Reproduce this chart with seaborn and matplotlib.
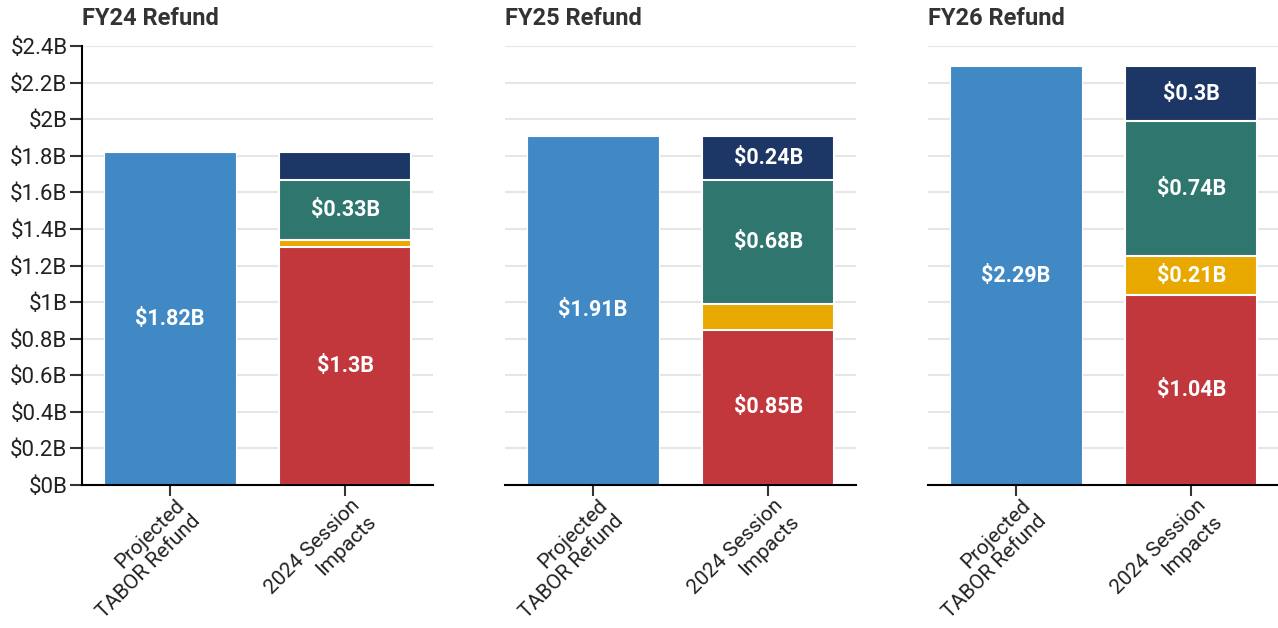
import matplotlib
matplotlib.use('Agg')
import matplotlib.pyplot as plt
import matplotlib.transforms as mtrans
import seaborn as sns
import pandas as pd

# chart data (billions of dollars)
years = ["FY24 Refund", "FY25 Refund", "FY26 Refund"]
categories = ["Projected\nTABOR Refund", "2024 Session\nImpacts"]
projected = [1.82, 1.91, 2.29]
red_part = [1.30, 0.85, 1.04]
yellow_part = [0.04, 0.14, 0.21]
green_part = [0.33, 0.68, 0.74]
navy_part = [0.15, 0.24, 0.30]
y_ticks = [0, 0.2, 0.4, 0.6, 0.8, 1.0, 1.2, 1.4, 1.6, 1.8, 2.0, 2.2, 2.4]
y_tick_labels = ["$0B", "$0.2B", "$0.4B", "$0.6B", "$0.8B", "$1B", "$1.2B",
                 "$1.4B", "$1.6B", "$1.8B", "$2B", "$2.2B", "$2.4B"]

BLUE = "#4189c5"
RED = "#c1373b"
YELLOW = "#e8a800"
GREEN = "#2f776e"
NAVY = "#1c3666"

sns.set_theme(style="white")
plt.rcParams['font.family'] = ['Roboto', 'DejaVu Sans']

fig = plt.figure(figsize=(12.78, 6.28), dpi=100)
lefts = [82 / 1278, 505 / 1278, 928 / 1278]
bottom = 1 - 485 / 628
height = (485 - 46) / 628
width = 351 / 1278

# nudge rotated x labels a little to the right of the tick
label_shift = mtrans.ScaledTranslation(5 / 100, 2 / 100, fig.dpi_scale_trans)


def fmt(v):
    return f"${v:g}B"


for i, year in enumerate(years):
    ax = fig.add_axes([lefts[i], bottom, width, height])
    parts = [red_part[i], yellow_part[i], green_part[i], navy_part[i]]
    colors = [RED, YELLOW, GREEN, NAVY]

    # cumulative layers, drawn from the tallest down so they stack visually
    cums = []
    run = 0
    for p in parts:
        run += p
        cums.append(run)
    for cum, col in reversed(list(zip(cums, colors))):
        df = pd.DataFrame({"cat": [categories[1]], "val": [cum]})
        sns.barplot(data=df, x="cat", y="val", order=categories, color=col,
                    width=0.75, edgecolor="white", linewidth=1.5,
                    saturation=1, ax=ax)
    df = pd.DataFrame({"cat": [categories[0]], "val": [projected[i]]})
    sns.barplot(data=df, x="cat", y="val", order=categories, color=BLUE,
                width=0.75, edgecolor="white", linewidth=0.8,
                saturation=1, ax=ax)

    # value labels
    ax.text(0, projected[i] / 2, fmt(projected[i]), ha="center", va="center",
            color="white", fontsize=15.5, fontweight="bold")
    base = 0
    for p in parts:
        if p >= 0.2:
            ax.text(1, base + p / 2, fmt(p), ha="center", va="center",
                    color="white", fontsize=15.5, fontweight="bold")
        base += p

    ax.set_xlim(-0.5, 1.5)
    ax.set_ylim(0, 2.4)
    ax.set_yticks(y_ticks)
    ax.yaxis.grid(True, color="#e6e6e6", linewidth=1.5)
    ax.set_axisbelow(True)
    ax.set_xlabel("")
    ax.set_ylabel("")
    for s in ["top", "right"]:
        ax.spines[s].set_visible(False)
    ax.spines["bottom"].set_color("black")
    ax.spines["bottom"].set_linewidth(1.5)
    ax.tick_params(axis="x", bottom=True, length=8, width=1.5,
                   color="#333333", pad=1)
    ax.set_xticks([0, 1])
    ax.set_xticklabels(categories, rotation=45, ha="right", va="top",
                       rotation_mode="anchor", multialignment="right",
                       fontsize=15, color="#222222")
    for lab in ax.get_xticklabels():
        lab.set_linespacing(1.25)
        lab.set_transform(lab.get_transform() + label_shift)
    if i == 0:
        ax.set_yticklabels(y_tick_labels, fontsize=16, color="#222222")
        ax.spines["left"].set_color("black")
        ax.spines["left"].set_linewidth(1.5)
        ax.tick_params(axis="y", left=True, length=8.5, width=1.5,
                       color="#333333", pad=2)
    else:
        ax.spines["left"].set_visible(False)
        ax.tick_params(axis="y", left=False, labelleft=False)
    ax.set_title(year, loc="left", fontsize=17, fontweight="bold",
                 color="#333333", pad=15)

fig.savefig("out.png", dpi=100)
